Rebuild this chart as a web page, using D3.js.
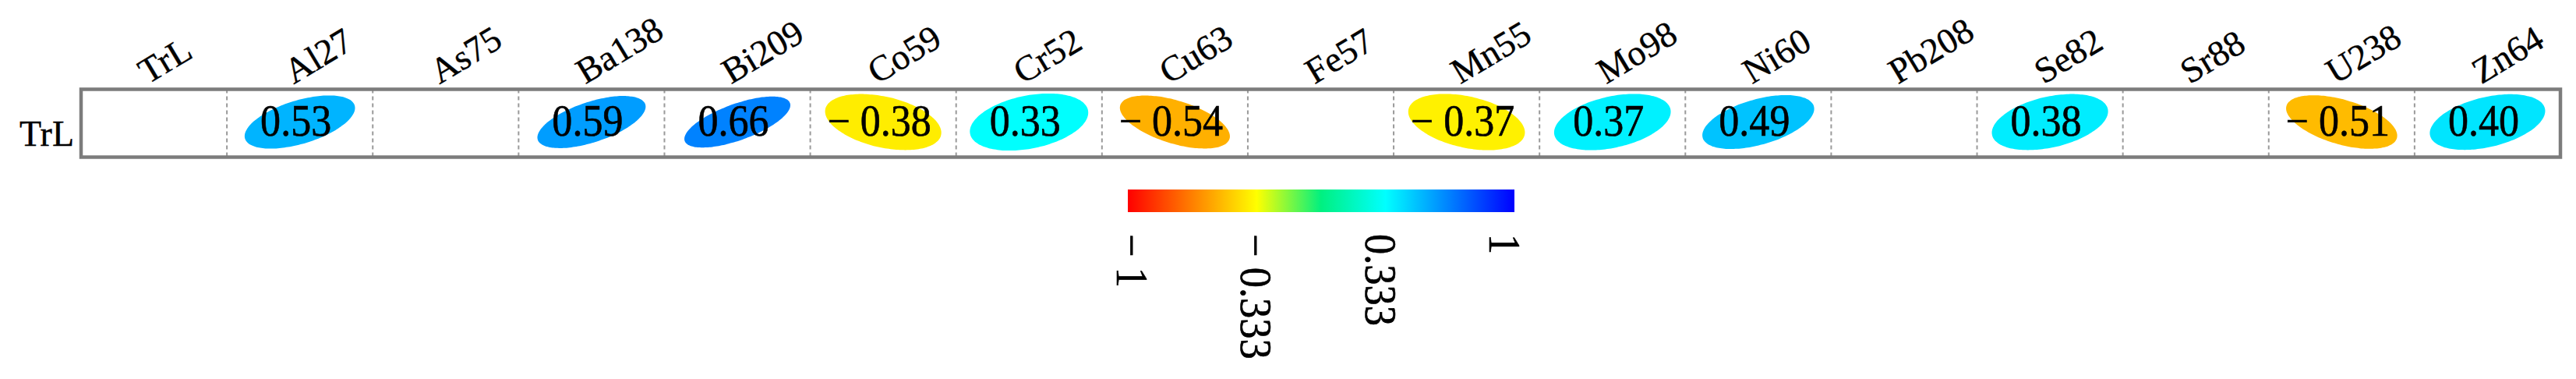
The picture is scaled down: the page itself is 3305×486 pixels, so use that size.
<!DOCTYPE html>
<html>
<head>
<meta charset="utf-8">
<script src="https://cdn.jsdelivr.net/npm/d3@7"></script>
<style>
  html, body { margin: 0; padding: 0; background: #ffffff; }
  svg { display: block; }
</style>
</head>
<body>
<script>
// ---------- data ----------
const columns = ['TrL','Al27','As75','Ba138','Bi209','Co59','Cr52','Cu63','Fe57','Mn55','Mo98','Ni60','Pb208','Se82','Sr88','U238','Zn64'];
const rowLabels = ['TrL'];
const values = [null, 0.53, null, 0.59, 0.66, -0.38, 0.33, -0.54, null, -0.37, 0.37, 0.49, null, 0.38, null, -0.51, 0.40];
const colorStops = [-1, -0.333, 0, 0.333, 1];
const colorStopColors = ['#ff0000', '#ffff00', '#00f080', '#00ffff', '#0000ff'];
const colorbarTicks = [-1, -0.333, 0.333, 1];
const colorbarTickLabels = ['\u2212 1', '\u2212 0.333', '0.333', '1'];

// ---------- setup ----------
const W = 3305, H = 486;
const FONT = "'Liberation Serif', 'Times New Roman', serif";
const svg = d3.select('body').append('svg').attr('width', W).attr('height', H);
svg.append('rect').attr('width', W).attr('height', H).attr('fill', '#fff');

const x = d3.scaleBand().domain(columns).range([104, 3285]).padding(0);
const y = d3.scaleBand().domain(rowLabels).range([114.5, 201.5]).padding(0);
const color = d3.scaleLinear().domain(colorStops).range(colorStopColors).interpolate(d3.interpolateRgb);

const cells = columns.map((c, i) => ({col: c, row: rowLabels[0], v: values[i]}));

const bw = x.bandwidth(), bh = y.bandwidth();

// dashed dividers
svg.append('g').selectAll('line')
  .data(columns.slice(1))
  .join('line')
  .attr('x1', d => x(d)).attr('x2', d => x(d))
  .attr('y1', y.range()[0]).attr('y2', y.range()[1])
  .attr('stroke', '#9a9a9a').attr('stroke-width', 2)
  .attr('stroke-dasharray', '5,4');

// ---------- ellipses ----------
const sx = 0.936 * bw / 2, sy = 0.97 * bh / 2;
const ts = d3.range(0, 96).map(i => i * 2 * Math.PI / 96);
function ellipsePoints(r) {
  const a = Math.abs(r);
  const A = 1, B = Math.sqrt((1 - a) / (1 + a));
  const s = r >= 0 ? 1 : -1;
  return ts.map(t => {
    const u = A * Math.cos(t), v = B * Math.sin(t);
    const X = (u - v) / Math.SQRT2, Y = (u + v) / Math.SQRT2;
    return [X * sx, -s * Y * sy];
  });
}
const line = d3.line().curve(d3.curveCardinalClosed);
const valued = cells.filter(d => d.v !== null);

svg.append('g').selectAll('path')
  .data(valued)
  .join('path')
  .attr('transform', d => `translate(${x(d.col) + bw / 2},${y(d.row) + bh / 2 - 1.5})`)
  .attr('d', d => line(ellipsePoints(d.v)))
  .attr('fill', d => color(d.v));

const fmt = d3.format('.2f');
svg.append('g').selectAll('text')
  .data(valued)
  .join('text')
  .attr('transform', d => `translate(${x(d.col) + bw / 2 - 5},${y(d.row) + bh / 2 + 16}) scale(0.93,1)`)
  .attr('text-anchor', 'middle')
  .attr('font-family', FONT)
  .attr('font-size', 56)
  .attr('fill', '#000')
  .attr('stroke', '#000').attr('stroke-width', 0.6)
  .text(d => d.v < 0 ? '\u2212 ' + fmt(-d.v) : fmt(d.v));

// outer box
svg.append('rect')
  .attr('x', x.range()[0]).attr('y', y.range()[0])
  .attr('width', x.range()[1] - x.range()[0])
  .attr('height', y.range()[1] - y.range()[0])
  .attr('fill', 'none')
  .attr('stroke', '#7c7c7c').attr('stroke-width', 4.5);

// ---------- labels ----------
svg.append('g').selectAll('text')
  .data(columns)
  .join('text')
  .attr('transform', d => `translate(${x(d) + bw / 2 - 8},${y.range()[0] - 6}) rotate(-31)`)
  .attr('font-family', FONT)
  .attr('font-size', 46)
  .attr('fill', '#000')
  .attr('stroke', '#000').attr('stroke-width', 0.4)
  .text(d => d);

svg.append('g').selectAll('text')
  .data(rowLabels)
  .join('text')
  .attr('x', x.range()[0] - 9)
  .attr('y', d => y(d) + bh / 2 + 29)
  .attr('text-anchor', 'end')
  .attr('font-family', FONT)
  .attr('font-size', 46)
  .attr('fill', '#000')
  .attr('stroke', '#000').attr('stroke-width', 0.4)
  .text(d => d);

// ---------- colorbar ----------
const cbLeft = 1447, cbRight = 1943, cbTop = 243, cbH = 29;
const cbX = d3.scaleLinear().domain([-1, 1]).range([cbLeft, cbRight]);
const defs = svg.append('defs');
const grad = defs.append('linearGradient').attr('id', 'cbgrad')
  .attr('x1', '0%').attr('x2', '100%').attr('y1', '0%').attr('y2', '0%');
grad.selectAll('stop')
  .data(colorStops)
  .join('stop')
  .attr('offset', d => ((cbX(d) - cbLeft) / (cbRight - cbLeft) * 100) + '%')
  .attr('stop-color', d => color(d));
svg.append('rect')
  .attr('x', cbX(-1)).attr('y', cbTop)
  .attr('width', cbX(1) - cbX(-1)).attr('height', cbH)
  .attr('fill', 'url(#cbgrad)');

const tickX = d3.scaleLinear().domain([-1, 1]).range([cbLeft - 14, cbRight - 32]);
svg.append('g').selectAll('text')
  .data(colorbarTicks)
  .join('text')
  .attr('transform', d => `translate(${tickX(d)},300) rotate(90) scale(0.92,1)`)
  .attr('text-anchor', 'start')
  .attr('font-family', FONT)
  .attr('font-size', 57)
  .attr('fill', '#000')
  .attr('stroke', '#000').attr('stroke-width', 0.6)
  .text((d, i) => colorbarTickLabels[i]);
</script>
</body>
</html>
